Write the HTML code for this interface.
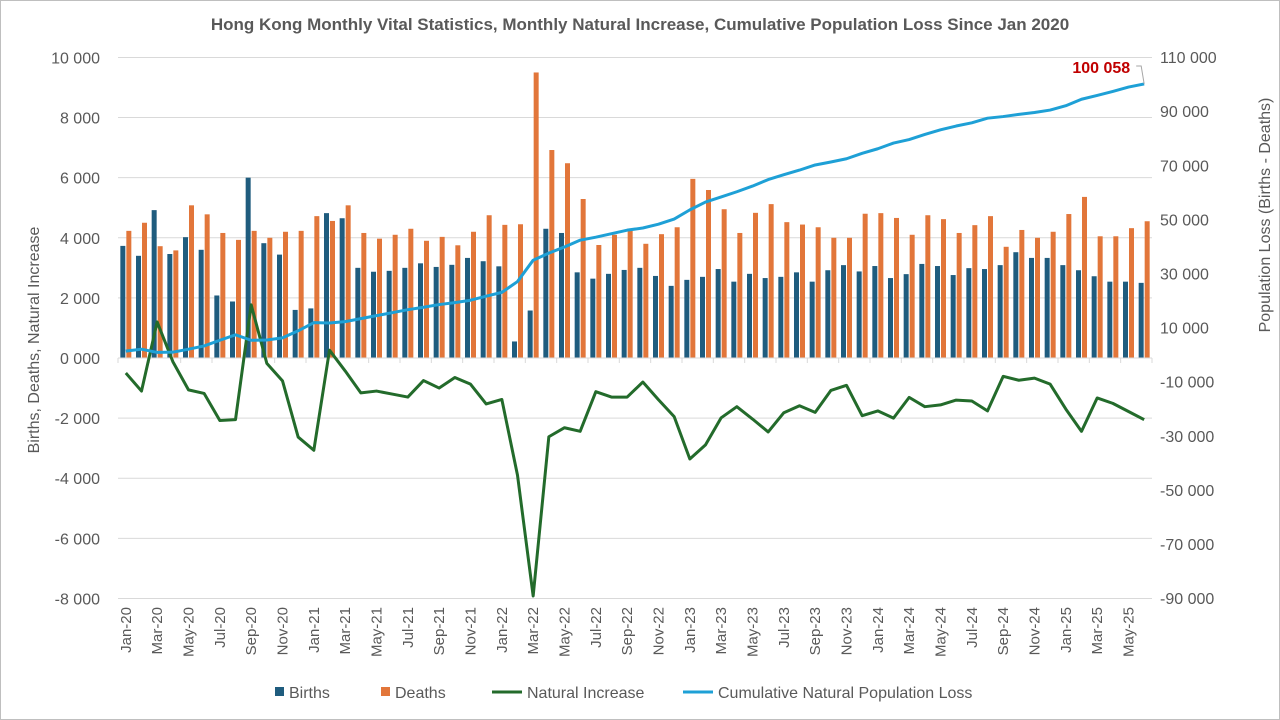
<!DOCTYPE html>
<html><head><meta charset="utf-8"><style>
body{margin:0;background:#fff;}
svg{display:block;font-family:"Liberation Sans",sans-serif;}
</style></head><body>
<svg id="c" width="1280" height="720"></svg>
<script>
const months=["Jan","Feb","Mar","Apr","May","Jun","Jul","Aug","Sep","Oct","Nov","Dec"];
const categories=[];for(let y=20;y<=25;y++)for(let m=0;m<12;m++){if(y===25&&m>5)break;categories.push(months[m]+"-"+y);}
const births=[3730,3400,4920,3460,4020,3600,2080,1880,6000,3820,3440,1600,1650,4820,4650,3000,2870,2900,3000,3150,3030,3100,3330,3220,3050,550,1580,4300,4160,2850,2640,2800,2930,3000,2730,2400,2600,2700,2960,2540,2800,2660,2700,2850,2540,2920,3090,2880,3060,2660,2790,3130,3060,2760,2990,2960,3090,3520,3330,3330,3090,2920,2720,2540,2540,2500];
const deaths=[4230,4500,3720,3580,5080,4780,4160,3930,4230,4000,4200,4230,4720,4560,5080,4160,3970,4100,4300,3900,4030,3750,4200,4750,4430,4450,9500,6920,6480,5290,3760,4100,4230,3800,4120,4350,5960,5590,4950,4160,4830,5120,4520,4440,4350,4000,4000,4800,4820,4660,4100,4750,4620,4160,4420,4720,3700,4260,4000,4200,4790,5360,4050,4050,4320,4550];
const naturalIncrease=[-500,-1100,1200,-120,-1060,-1180,-2080,-2050,1770,-180,-760,-2630,-3070,260,-430,-1160,-1100,-1200,-1300,-750,-1000,-650,-870,-1530,-1380,-3900,-7920,-2620,-2320,-2440,-1120,-1300,-1300,-800,-1390,-1950,-3360,-2890,-1990,-1620,-2030,-2460,-1820,-1590,-1810,-1080,-910,-1920,-1760,-2000,-1310,-1620,-1560,-1400,-1430,-1760,-610,-740,-670,-870,-1700,-2440,-1330,-1510,-1780,-2050];
const cumulative=[1300,2000,800,900,2000,3200,5300,7300,5300,5400,6200,8800,11800,11700,12200,13300,14400,15500,16600,17500,18500,19200,20100,21600,23000,27000,34900,37500,39800,42300,43400,44700,46000,46800,48200,50100,53500,56400,58300,60200,62300,64700,66500,68200,70100,71200,72400,74400,76100,78200,79500,81400,83100,84500,85700,87400,88000,88800,89500,90400,92000,94400,95800,97300,98900,100058];
const leftTicks=[-8000,-6000,-4000,-2000,0,2000,4000,6000,8000,10000];
const rightTicks=[-90000,-70000,-50000,-30000,-10000,10000,30000,50000,70000,90000,110000];

const NS="http://www.w3.org/2000/svg",svg=document.getElementById('c');
function el(t,a,p){const e=document.createElementNS(NS,t);for(const k in a)e.setAttribute(k,a[k]);(p||svg).appendChild(e);return e;}
const X0=118,X1=1152,bw=(X1-X0)/categories.length;
const xc=i=>X0+bw*(i+0.5);
const yL=v=>358-v*541/18000;
const yR=v=>354.6-v*541/200000;
function fmtK(a){const s=String(a);return s.length>3?s.slice(0,-3)+" "+s.slice(-3):s;}

el('rect',{x:0.5,y:0.5,width:1279,height:719,fill:'#fff',stroke:'#bfbfbf'});
let t=el('text',{x:640,y:30,'text-anchor':'middle','font-size':17,'font-weight':'bold',fill:'#595959'});t.textContent="Hong Kong Monthly Vital Statistics, Monthly Natural Increase, Cumulative Population Loss Since Jan 2020";


const grid=el('g',{});
leftTicks.forEach(v=>{
 if(v!==0)el('line',{x1:X0,x2:X1,y1:yL(v),y2:yL(v),stroke:'#d9d9d9'},grid);
 const l=el('text',{x:100,y:yL(v)+6,'text-anchor':'end','font-size':16,fill:'#595959'});
 
 l.textContent=v===0?"0 000":(v<0?"-":"")+fmtK(Math.abs(v));
});
rightTicks.forEach(v=>{
 const l=el('text',{x:1160,y:yR(v)+6,'font-size':16,fill:'#595959'});
 
 l.textContent=(v<0?"-":"")+fmtK(Math.abs(v));
});
const bars=el('g',{});
categories.forEach((c,i)=>{
 const b=el('rect',{x:xc(i)-5.5,y:yL(births[i]),width:5,height:yL(0)-yL(births[i]),fill:'#1f5c7e'},bars);
 
 const d=el('rect',{x:xc(i)+0.5,y:yL(deaths[i]),width:5,height:yL(0)-yL(deaths[i]),fill:'#e2763a'},bars);
 
});
el('line',{x1:X0,x2:X1,y1:yL(0),y2:yL(0),stroke:'#d9d9d9'});
for(let i=0;i<=categories.length;i+=2)el('line',{x1:X0+bw*i,x2:X0+bw*i,y1:yL(0),y2:yL(0)+5,stroke:'#d9d9d9'});
categories.forEach((c,i)=>{if(i%2)return;
 const l=el('text',{x:0,y:0,'text-anchor':'end','font-size':15,fill:'#595959',transform:`translate(${xc(i)+5},607) rotate(-90)`});
 l.textContent=c;});
const pn=el('polyline',{points:naturalIncrease.map((v,i)=>xc(i)+","+yL(v)).join(" "),fill:'none',stroke:'#236b2b','stroke-width':3,'stroke-linejoin':'round'});

const pc=el('polyline',{points:cumulative.map((v,i)=>xc(i)+","+yR(v)).join(" "),fill:'none',stroke:'#1ea0d6','stroke-width':3,'stroke-linejoin':'round'});

const li=cumulative.length-1,ax=xc(li),ay=yR(cumulative[li]);
el('polyline',{points:`${ax},${ay} ${ax-3},${ay-18} ${ax-8},${ay-18}`,fill:'none',stroke:'#a6a6a6'});
t=el('text',{x:ax-14,y:ay-11,'text-anchor':'end','font-size':16,'font-weight':'bold',fill:'#c00000'});t.textContent=fmtK(cumulative[li]);

t=el('text',{x:0,y:0,'text-anchor':'middle','font-size':16,fill:'#595959',transform:'translate(39,340) rotate(-90)'});t.textContent="Births, Deaths, Natural Increase";

t=el('text',{x:0,y:0,'text-anchor':'middle','font-size':16,fill:'#595959',transform:'translate(1270,215) rotate(-90)'});t.textContent="Population Loss (Births - Deaths)";

const lg=el('g',{});
function entry(x,type,color,label){const g=el('g',{},lg);
 if(type==='box')el('rect',{x:x,y:687,width:9,height:9,fill:color},g);else el('line',{x1:x,x2:x+30,y1:692,y2:692,stroke:color,'stroke-width':3},g);
 const tx=el('text',{x:x+(type==='box'?14:35),y:698,'font-size':16,fill:'#595959'},g);tx.textContent=label;}
entry(275,'box','#1f5c7e','Births');entry(381,'box','#e2763a','Deaths');entry(492,'line','#236b2b','Natural Increase');entry(683,'line','#1ea0d6','Cumulative Natural Population Loss');
</script>
</body></html>
